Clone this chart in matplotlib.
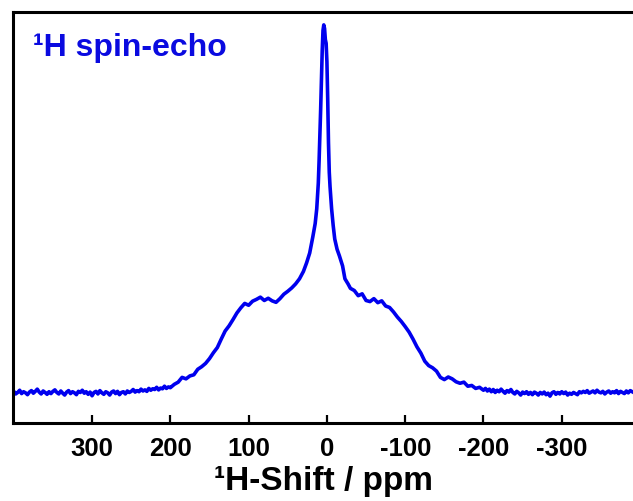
import numpy as np
import matplotlib.pyplot as plt

plt.rcParams['font.family'] = ['Liberation Sans', 'DejaVu Sans']
plt.rcParams['font.weight'] = 'bold'

# 1H spin-echo spectrum, chemical shift (ppm) and intensity (% of max)
shift_ppm = [
    400, 397.5, 395, 392.5, 390, 387.5, 385, 382.5, 380, 377.5, 375, 372.5,
    370, 367.5, 365, 362.5, 360, 357.5, 355, 352.5, 350, 347.5, 345, 342.5,
    340, 337.5, 335, 332.5, 330, 327.5, 325, 322.5, 320, 317.5, 315, 312.5,
    310, 307.5, 305, 302.5, 300, 297.5, 295, 292.5, 290, 287.5, 285, 282.5,
    280, 277.5, 275, 272.5, 270, 267.5, 265, 262.5, 260, 257.5, 255, 252.5,
    250, 247.5, 245, 242.5, 240, 237.5, 235, 232.5, 230, 227.5, 225, 222.5,
    220, 217.5, 215, 212.5, 210, 207.5, 205, 202.5,
    200, 195, 190, 185, 180, 175, 170, 165, 160, 155, 150, 145, 140, 135, 130,
    125, 120, 115, 110, 105, 100, 95, 90, 85, 80, 75, 70, 65, 60, 55, 50, 45,
    40, 35, 30, 26, 22, 18, 15, 13, 11, 10, 9, 8, 7, 6, 5, 4, 3, 2, 1, 0,
    -1, -2, -3, -4, -6, -8, -10, -13, -16, -20, -23, -27, -30, -35, -40,
    -45, -50, -55, -60, -65, -70, -75, -80, -85, -90, -95, -100, -105, -110,
    -115, -120, -125, -130, -135, -140, -145, -150, -155, -160, -165, -170,
    -175, -180, -185, -190, -195, -200,
    -202.5, -205, -207.5, -210, -212.5, -215, -217.5, -220, -222.5, -225,
    -227.5, -230, -232.5, -235, -237.5, -240, -242.5, -245, -247.5, -250,
    -252.5, -255, -257.5, -260, -262.5, -265, -267.5, -270, -272.5, -275,
    -277.5, -280, -282.5, -285, -287.5, -290, -292.5, -295, -297.5, -300,
    -302.5, -305, -307.5, -310, -312.5, -315, -317.5, -320, -322.5, -325,
    -327.5, -330, -332.5, -335, -337.5, -340, -342.5, -345, -347.5, -350,
    -352.5, -355, -357.5, -360, -362.5, -365, -367.5, -370, -372.5, -375,
    -377.5, -380, -382.5, -385, -387.5, -390,
]
intensity = [
    0.4, -0.3, 0.1, 0.7, -0.2, 0.3, 0.0, -0.5, 0.2, 0.6, -0.1, 0.4,
    1.0, 0.2, -0.3, 0.5, 0.1, -0.4, 0.3, -0.2, 0.4, 0.8, 0.1, -0.3,
    0.5, -0.1, -0.6, 0.2, 0.6, -0.2, 0.3, 0.0, -0.5, 0.4, 0.1, 0.7,
    -0.1, 0.3, -0.4, 0.2, -0.8, 0.1, 0.4, -0.3, 0.6, 0.0, -0.4, 0.3,
    0.0, -0.6, 0.2, 0.5, -0.2, 0.4, -0.5, 0.1, 0.3, -0.3, 0.5, 0.1,
    0.4, 0.9, 0.2, 0.6, 0.3, 1.0, 0.5, 0.8, 0.4, 1.2, 0.7, 1.1,
    0.9, 1.5, 0.8, 1.3, 1.1, 1.8, 1.2, 1.6,
    1.4, 2.3, 2.9, 4.2, 3.8, 4.6, 4.9, 6.4, 7.1, 8.0, 9.3, 10.9, 12.3, 14.6, 16.8,
    18.2, 19.9, 21.7, 23.1, 24.3, 23.8, 24.9, 25.4, 26.0, 25.1, 25.7, 25.0, 24.6,
    25.6, 26.8, 27.6, 28.5,
    29.6, 31.0, 33.0, 35.3, 38.0, 42.4, 46.0, 50.0, 57.0, 63.0, 70.0, 77.0, 85.0,
    93.0, 98.5, 100.0, 99.0, 96.0, 95.0, 90.0,
    80.0, 68.0, 60.0, 56.0, 50.0, 45.5, 41.8, 39.0, 37.2, 34.5, 31.0, 29.6, 28.4,
    27.8, 26.4,
    26.9, 25.1, 24.8, 25.6, 24.5, 25.0, 23.6, 23.2, 22.0, 20.6, 19.4, 18.0, 16.5,
    14.6, 12.5, 10.8, 8.6, 7.4, 6.8, 5.9, 4.2, 3.6, 4.3, 3.8, 3.0, 2.6,
    2.9, 1.8, 2.0, 1.2, 1.5, 0.7,
    1.2, 0.5, 1.0, 0.3, 0.9, 0.1, 0.7, 0.3, 1.0, 0.4,
    -0.1, 0.6, 0.2, 0.9, 0.1, -0.3, 0.4, 0.0, -0.6, 0.2,
    -0.2, 0.3, -0.4, 0.1, -0.5, 0.2, -0.1, -0.6, 0.1, -0.3,
    0.2, -0.5, -0.1, -0.9, 0.0, 0.3, -0.4, 0.1, -0.3, 0.3,
    -0.2, 0.2, -0.6, -0.1, -0.4, 0.1, -0.2, -0.5, 0.3, 0.0,
    0.4, 0.1, 0.6, -0.1, 0.2, 0.5, 0.0, 0.7, 0.2, 0.0,
    0.4, -0.3, 0.2, 0.5, -0.1, 0.3, 0.0, 0.6, -0.2, 0.4,
    0.1, -0.2, 0.5, 0.0, 0.6, 0.3,
]
tick_ppm = [300, 200, 100, 0, -100, -200, -300]

fig = plt.figure(figsize=(6.33, 5.01), dpi=100)
ax = fig.add_axes([13 / 633, 78 / 501, 620 / 633, 411 / 501])

ax.plot(shift_ppm, intensity, color='#0000ee', lw=2.6, solid_joinstyle='round')

ax.set_xlim(401, -391)
ax.set_ylim(-8.2, 103.5)
ax.set_xticks(tick_ppm)
ax.set_xticklabels([str(t) for t in tick_ppm])
ax.set_yticks([])
ax.tick_params(axis='x', direction='in', length=6, width=1.6, pad=10,
               labelsize=18.5)
for side in ('left', 'top', 'bottom'):
    ax.spines[side].set_linewidth(2.2)
ax.spines['right'].set_visible(False)

ax.set_xlabel('\u00b9H-Shift / ppm', fontsize=24, fontweight='bold', labelpad=4)
fig.text(33 / 633, 1 - 56 / 501, '\u00b9H spin-echo', color='#0a0ae0',
         fontsize=23, fontweight='bold', va='baseline', ha='left')

fig.savefig('out.png', dpi=100)
